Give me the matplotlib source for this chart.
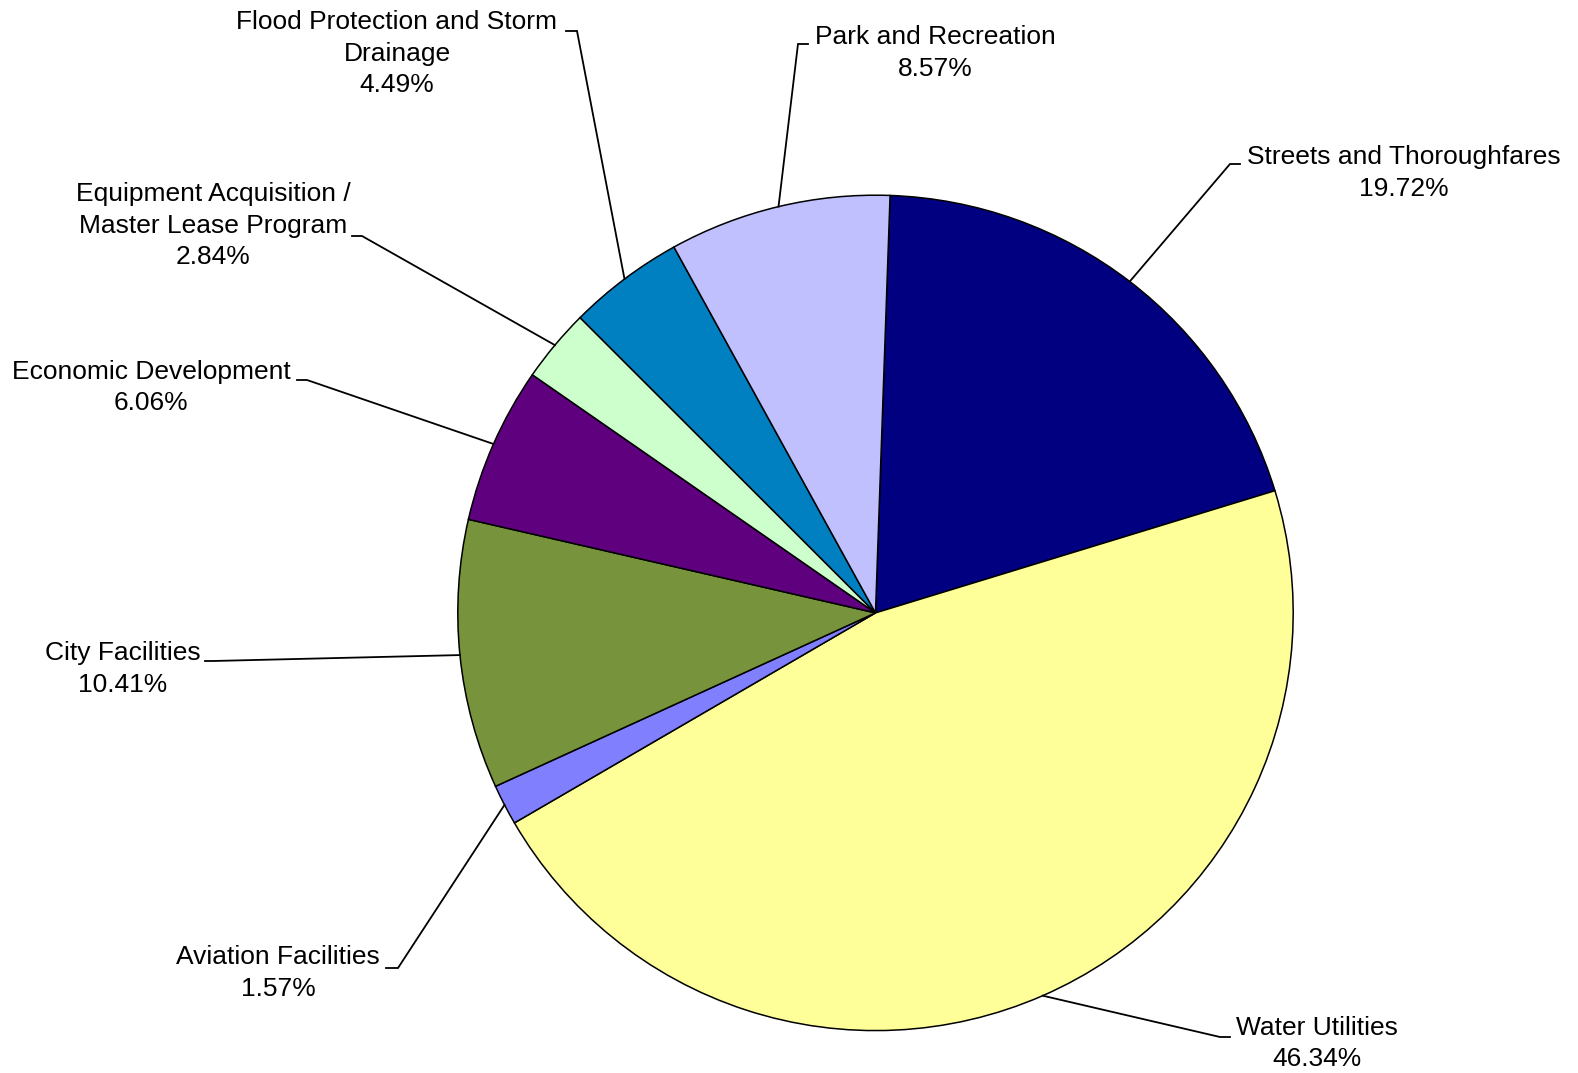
import numpy as np
import matplotlib.pyplot as plt

plt.rcParams['font.family'] = ['Liberation Sans', 'DejaVu Sans']

# data (clockwise from the top)
categories = ['Streets and Thoroughfares', 'Water Utilities', 'Aviation Facilities',
              'City Facilities', 'Economic Development',
              'Equipment Acquisition /\nMaster Lease Program',
              'Flood Protection and Storm\nDrainage', 'Park and Recreation']
shares = [19.72, 46.34, 1.57, 10.41, 6.06, 2.84, 4.49, 8.57]
pct_labels = ['19.72%', '46.34%', '1.57%', '10.41%', '6.06%', '2.84%', '4.49%', '8.57%']
colors = ['#000080', '#FFFF99', '#8080FF', '#77933C', '#5F007F', '#CCFFCC', '#0080C0', '#C0C0FF']

# layout in pixels (y measured from the top)
W, H = 1578, 1073
CX, CY, R = 875.5, 612.9, 417.7
# (text centre x, first baseline y, elbow x, elbow y, end x)
label_layout = [
    (1404, 164, 1230, 164, 1240),
    (1317, 1035, 1220, 1037, 1230),
    (278, 964, 398, 968, 386),
    (123, 660, 213, 661, 205),
    (151, 379, 307, 380, 297),
    (213, 201, 362, 236, 352),
    (397, 29, 577, 31, 566),
    (935, 44, 798, 44, 808),
]
LINE = 31.5

fig = plt.figure(figsize=(W / 100, H / 100), dpi=100)
ax = fig.add_axes([0, 0, 1, 1])

wedges, _ = ax.pie(shares, colors=colors, startangle=88, counterclock=False,
                   center=(CX, H - CY), radius=R,
                   wedgeprops=dict(edgecolor='black', linewidth=1.1))
ax.set_xlim(0, W)
ax.set_ylim(0, H)
ax.set_aspect('equal')
ax.axis('off')

for w, name, pct, (tx, ty, ex, ey, endx) in zip(wedges, categories, pct_labels, label_layout):
    # leader line from the middle of the wedge's arc
    a = np.deg2rad((w.theta1 + w.theta2) / 2)
    px = CX + R * np.cos(a)
    py = (H - CY) + R * np.sin(a)
    ax.plot([px, ex, endx], [py, H - ey, H - ey], color='black', linewidth=1.3,
            solid_joinstyle='miter')
    lines = name.split('\n') + [pct]
    for i, s in enumerate(lines):
        ax.text(tx, H - (ty + i * LINE), s, ha='center', va='baseline',
                fontsize=19, color='black')

plt.savefig('out.png', dpi=100)
